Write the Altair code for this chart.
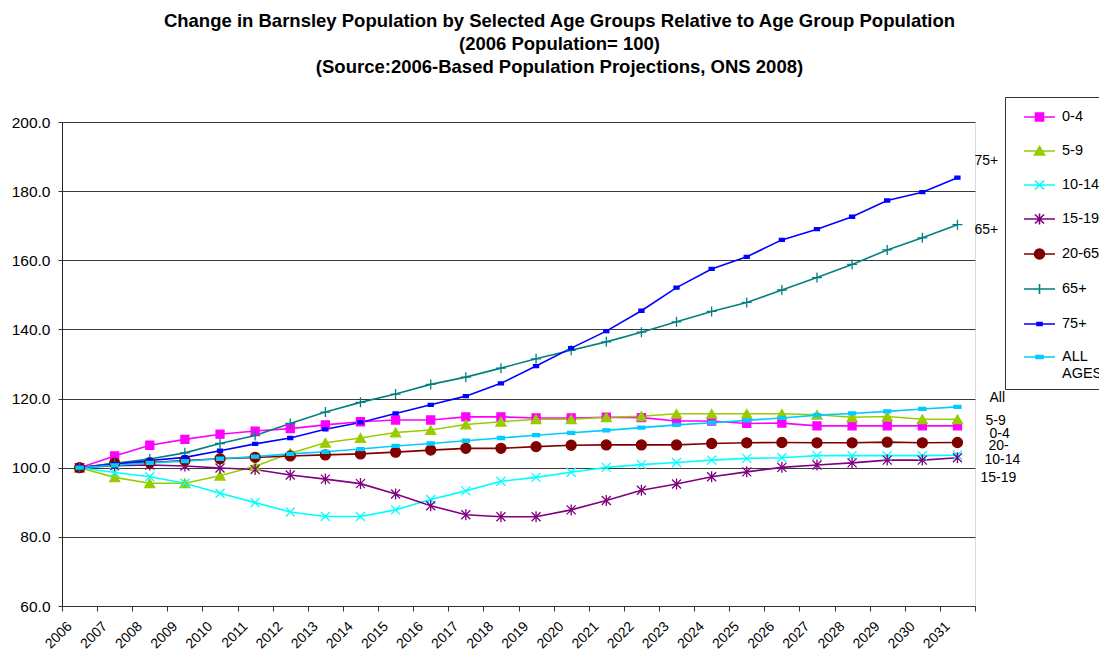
import altair as alt
import pandas as pd

years = list(range(2006, 2032))
groups = ["0-4", "5-9", "10-14", "15-19", "20-65", "65+", "75+", "ALL AGES"]

v_0_4 = [100, 103.4, 106.5, 108.2, 109.7, 110.6, 111.3, 112.4, 113.3, 113.8, 113.8, 114.7, 114.7,
         114.4, 114.4, 114.6, 114.5, 113.5, 113.5, 112.8, 112.9, 112.1, 112.1, 112.1, 112.1, 112.1]
v_5_9 = [100, 97.2, 95.5, 95.5, 97.7, 100.4, 104.2, 107.2, 108.6, 110.2, 110.9, 112.5, 113.3,
         114.0, 114.0, 114.6, 114.9, 115.6, 115.6, 115.6, 115.6, 115.3, 114.6, 114.8, 114.0, 114.0]
v_10_14 = [100, 98.6, 97.4, 95.5, 92.6, 89.9, 87.2, 85.9, 85.9, 87.8, 90.8, 93.3, 96.1,
           97.2, 98.7, 100.1, 100.9, 101.5, 102.2, 102.7, 102.9, 103.5, 103.5, 103.5, 103.5, 103.6]
v_15_19 = [100, 100.6, 100.8, 100.5, 99.9, 99.5, 97.9, 96.7, 95.4, 92.4, 89.0, 86.4, 85.8,
           85.8, 87.8, 90.5, 93.5, 95.3, 97.4, 98.8, 100.1, 100.8, 101.4, 102.2, 102.2, 102.9]
v_20_65 = [100, 101.3, 101.5, 102.1, 102.6, 103.0, 103.4, 103.7, 104.0, 104.5, 105.1, 105.6, 105.6,
           106.1, 106.5, 106.6, 106.6, 106.6, 107.0, 107.2, 107.3, 107.2, 107.2, 107.4, 107.2, 107.3]
v_65 = [100, 101.3, 102.5, 104.3, 107.0, 109.3, 112.8, 116.1, 118.9, 121.3, 124.1, 126.2, 128.8,
        131.5, 134.0, 136.4, 139.2, 142.2, 145.2, 147.8, 151.4, 155.0, 158.8, 163.0, 166.5, 170.3]
v_75 = [100, 101.0, 102.1, 103.0, 104.9, 106.9, 108.6, 111.1, 113.1, 115.7, 118.2, 120.7, 124.4,
        129.4, 134.6, 139.5, 145.4, 152.1, 157.5, 161.0, 165.9, 169.0, 172.6, 177.3, 179.7, 183.9]
v_all = [100, 100.7, 101.4, 101.9, 102.6, 103.2, 104.0, 104.6, 105.4, 106.3, 107.0, 107.8, 108.6,
         109.4, 110.1, 110.8, 111.6, 112.4, 113.0, 113.7, 114.4, 115.2, 115.7, 116.3, 117.0, 117.6]

series = [v_0_4, v_5_9, v_10_14, v_15_19, v_20_65, v_65, v_75, v_all]
colors = ["#FF00FF", "#99CC00", "#00FFFF", "#800080", "#800000", "#008080", "#0000FF", "#00CCFF"]

# end-of-line annotation texts (Excel text boxes)
end_labels = ["75+", "65+", "All", "5-9", "0-4", "20-", "10-14", "15-19"]
end_groups = ["75+", "65+", "ALL AGES", "5-9", "0-4", "20-65", "10-14", "15-19"]
# pixel nudges (dx, dy) of each text box from its line end
end_nudge = [(17, -17), (17, 5), (32, -9), (28, 2), (32, 8), (31, 4), (27, 5), (23, 20)]

title_lines = [
    "Change in Barnsley Population by Selected Age Groups Relative to Age Group Population",
    "(2006 Population= 100)",
    "(Source:2006-Based Population Projections, ONS 2008)",
]

rows = []
for g, vals in zip(groups, series):
    for yr, v in zip(years, vals):
        rows.append({"year": yr, "group": g, "value": v})
df = pd.DataFrame(rows)

FONT = "Liberation Sans"

# chart markers (unit = 5 px at size 100)
marker_shapes = [
    "M-0.8,-0.8H0.8V0.8H-0.8Z",
    "triangle-up",
    "M-0.9,-0.9L0.9,0.9M-0.9,0.9L0.9,-0.9",
    "M-0.9,-0.9L0.9,0.9M-0.9,0.9L0.9,-0.9M0,-1.1V1.1",
    "circle",
    "M-1,0H1M0,-1V1",
    "M-0.5,-0.3H0.5V0.3H-0.5Z",
    "M-0.7,-0.3H0.7V0.3H-0.7Z",
]

# legend symbols: a line with a marker (unit = 10 px at size 400)
LX0, LX1, CX = -0.1, 3.0, 1.45


def lg(marker):
    return f"M{LX0},0H{LX1}" + marker


def f(v):
    return f"{v:.2f}"


legend_shapes = [
    lg(f"M{f(CX-0.4)},-0.4H{f(CX+0.4)}V0.4H{f(CX-0.4)}Z"),
    lg(f"M{f(CX)},-0.45L{f(CX+0.5)},0.4L{f(CX-0.5)},0.4Z"),
    lg(f"M{f(CX-0.45)},-0.45L{f(CX+0.45)},0.45M{f(CX-0.45)},0.45L{f(CX+0.45)},-0.45"),
    lg(f"M{f(CX-0.45)},-0.45L{f(CX+0.45)},0.45M{f(CX-0.45)},0.45L{f(CX+0.45)},-0.45M{f(CX)},-0.55V0.55"),
    lg(f"M{f(CX-0.5)},0A0.5,0.5,0,1,1,{f(CX+0.5)},0A0.5,0.5,0,1,1,{f(CX-0.5)},0Z"),
    lg(f"M{f(CX-0.5)},0H{f(CX+0.5)}M{f(CX)},-0.5V0.5"),
    lg(f"M{f(CX-0.25)},-0.15H{f(CX+0.25)}V0.15H{f(CX-0.25)}Z"),
    lg(f"M{f(CX-0.35)},-0.15H{f(CX+0.35)}V0.15H{f(CX-0.35)}Z"),
]

x_enc = alt.X(
    "year:O",
    scale=alt.Scale(type="band", paddingInner=0, paddingOuter=0),
    axis=alt.Axis(
        title=None, labelAngle=-45, labelAlign="right", labelBaseline="middle",
        labelFontSize=14, labelFont=FONT, labelColor="black", labelPadding=13, labelOffset=-10,
        tickBand="extent", tickSize=5, tickColor="#333333", domainColor="#333333", grid=False,
    ),
)
y_enc = alt.Y(
    "value:Q",
    scale=alt.Scale(domain=[60, 200], nice=False, zero=False),
    axis=alt.Axis(
        title=None, values=[60, 80, 100, 120, 140, 160, 180, 200], format=".1f",
        labelFontSize=15.5, labelFont=FONT, labelColor="black", tickSize=4, labelPadding=8,
        tickColor="#333333", domainColor="#222222", gridColor="#3a3a3a", gridWidth=1,
    ),
)

cscale = alt.Scale(domain=groups, range=colors)

lines = alt.Chart(df).mark_line(strokeWidth=1.6).encode(
    x=x_enc, y=y_enc,
    stroke=alt.Stroke("group:N", scale=cscale, legend=None),
    detail="group:N",
)

markers = alt.Chart(df).mark_point(filled=True, opacity=1, size=100, strokeWidth=1.3).encode(
    x=x_enc, y=y_enc,
    fill=alt.Fill("group:N", scale=cscale, legend=None),
    stroke=alt.Stroke("group:N", scale=cscale, legend=None),
    shape=alt.Shape("group:N", scale=alt.Scale(domain=groups, range=marker_shapes), legend=None),
)

leg = alt.Legend(
    title=None, orient="none", legendX=943, legendY=-25, padding=9,
    strokeColor="#333333", symbolSize=400, symbolStrokeWidth=1.6, rowPadding=15,
    labelFontSize=14.5, labelFont=FONT, labelColor="black", labelOffset=26, labelLimit=200,
    labelExpr="datum.label == 'ALL AGES' ? ['ALL', 'AGES'] : datum.label",
)

legend_layer = alt.Chart(df).transform_filter("datum.value < 0").mark_point(
    filled=True, opacity=1, strokeWidth=1.6
).encode(
    x=x_enc, y=y_enc,
    fill=alt.Fill("group:N", scale=cscale, legend=leg),
    stroke=alt.Stroke("group:N", scale=cscale, legend=leg),
    shape=alt.Shape("group:N", scale=alt.Scale(domain=groups, range=legend_shapes), legend=leg),
)

last = {g: vals[-1] for g, vals in zip(groups, series)}
text_layers = []
for txt, g, (dx, dy) in zip(end_labels, end_groups, end_nudge):
    tdf = pd.DataFrame([{"year": years[-1], "value": last[g], "label": txt}])
    text_layers.append(
        alt.Chart(tdf).mark_text(
            align="left", baseline="middle", dx=dx, dy=dy, fontSize=14, font=FONT, color="black"
        ).encode(x=x_enc, y=y_enc, text="label:N")
    )

chart = alt.layer(lines, markers, legend_layer, *text_layers).resolve_scale(
    fill="independent", stroke="independent", shape="independent"
).properties(
    width=913,
    height=484,
    padding={"left": 54, "top": 114, "right": 124, "bottom": 47},
    autosize=alt.AutoSizeParams(type="none"),
    title=alt.TitleParams(
        text=title_lines, fontSize=18.5, fontWeight="bold", font=FONT, color="black",
        anchor="middle", dx=41, offset=20, lineHeight=23,
    ),
).configure_view(stroke=None).configure(background="white")

chart.save("out.html", embed_options={"renderer": "svg", "actions": False})
